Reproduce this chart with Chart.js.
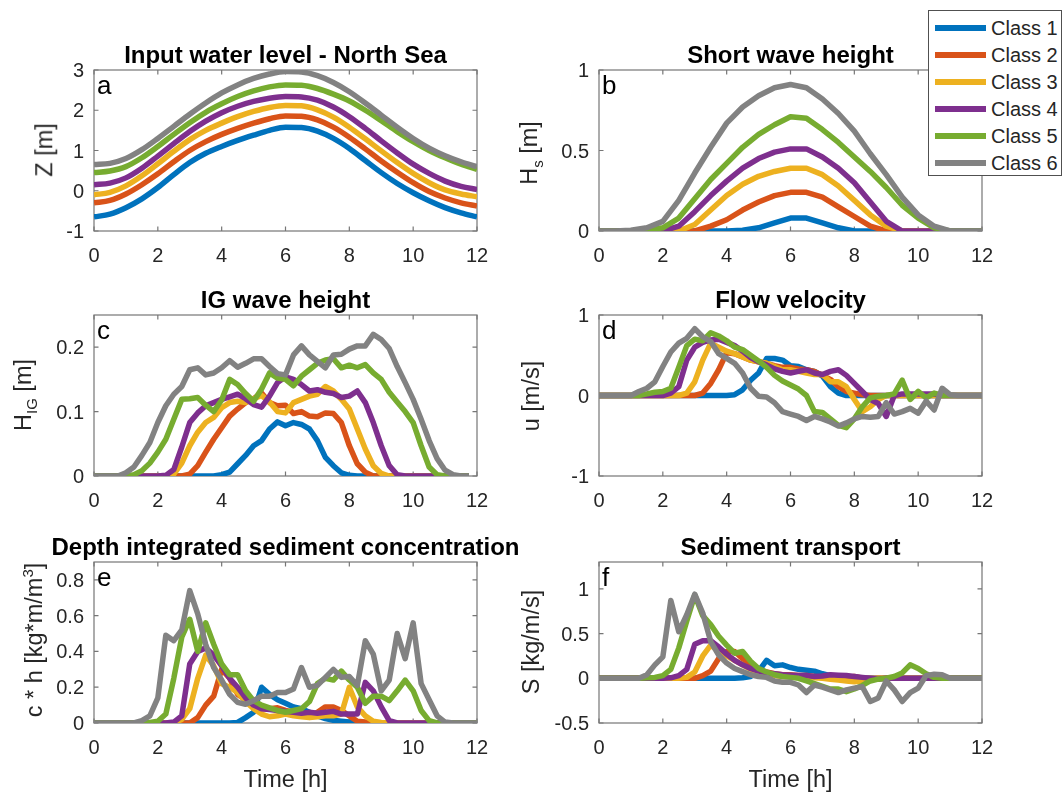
<!DOCTYPE html>
<html>
<head>
<meta charset="utf-8">
<title>Storm classes</title>
<script src="https://cdn.jsdelivr.net/npm/chart.js@4.4.0/dist/chart.umd.min.js"></script>
<style>
  body { margin: 0; background: #fff; font-family: "Liberation Sans", Arial, sans-serif; }
  #page { position: relative; width: 1064px; height: 794px; overflow: hidden; }
  #page canvas { position: absolute; left: 0; top: 0; }
  .ylab { position: absolute; transform: translate(-50%, -50%) rotate(-90deg); font-size: 23.5px; color: #262626; white-space: nowrap; line-height: 1; }
  .ylab sub, .ylab sup { font-size: 15px; line-height: 0; }
  #legend { position: absolute; left: 928px; top: 10px; width: 134px; height: 166px; box-sizing: border-box; border: 1px solid #505050; background: #fff; z-index: 5; }
  .row { position: absolute; left: 0; height: 26px; line-height: 26px; font-size: 20px; color: #262626; white-space: nowrap; }
  .swatch { position: absolute; left: 6px; top: 10px; width: 51px; height: 6px; }
  .row span.txt { position: absolute; left: 62px; }
</style>
</head>
<body>
<div id="page">
  <div class="ylab" style="left:45px; top:150px;">Z [m]</div>
  <div class="ylab" style="left:530px; top:153px;">H<sub>s</sub> [m]</div>
  <div class="ylab" style="left:24px; top:395px;">H<sub>IG</sub> [m]</div>
  <div class="ylab" style="left:532px; top:396px;">u [m/s]</div>
  <div class="ylab" style="left:35px; top:640px;">c * h [kg*m/m<sup>3</sup>]</div>
  <div class="ylab" style="left:532px; top:642px;">S [kg/m/s]</div>
  <div id="legend"></div>
</div>
<script>
const classNames = ['Class 1', 'Class 2', 'Class 3', 'Class 4', 'Class 5', 'Class 6'];
const classColors = ['#0072BD', '#D95319', '#EDB120', '#7E2F8E', '#77AC30', '#828282'];

const halfHours = [0, 0.5, 1, 1.5, 2, 2.5, 3, 3.5, 4, 4.5, 5, 5.5, 6, 6.5, 7, 7.5, 8, 8.5, 9, 9.5, 10, 10.5, 11, 11.5, 12];
const hours = [0, 0.25, 0.5, 0.75, 1, 1.25, 1.5, 1.75, 2, 2.25, 2.5, 2.75, 3, 3.25, 3.5, 3.75,
  4, 4.25, 4.5, 4.75, 5, 5.25, 5.5, 5.75, 6, 6.25, 6.5, 6.75, 7, 7.25, 7.5, 7.75,
  8, 8.25, 8.5, 8.75, 9, 9.25, 9.5, 9.75, 10, 10.25, 10.5, 10.75, 11, 11.25, 11.5, 11.75, 12];

const timeTicks = [0, 2, 4, 6, 8, 10, 12];
const zTicks = [-1, 0, 1, 2, 3];
const hsTicks = [0, 0.5, 1];
const higTicks = [0, 0.1, 0.2];
const uTicks = [-1, 0, 1];
const chTicks = [0, 0.2, 0.4, 0.6, 0.8];
const sTicks = [-0.5, 0, 0.5, 1];

// a: water level [m], every half hour
const waterLevel = [
  [-0.65, -0.58, -0.42, -0.2, 0.08, 0.4, 0.7, 0.93, 1.1, 1.25, 1.38, 1.5, 1.58, 1.57, 1.48, 1.3, 1.05, 0.75, 0.45, 0.18, -0.05, -0.25, -0.42, -0.55, -0.65],
  [-0.3, -0.24, -0.08, 0.15, 0.42, 0.72, 1.0, 1.22, 1.4, 1.55, 1.68, 1.79, 1.86, 1.85, 1.76, 1.58, 1.33, 1.04, 0.74, 0.46, 0.2, -0.02, -0.18, -0.3, -0.38],
  [-0.1, -0.04, 0.12, 0.37, 0.67, 0.98, 1.27, 1.5, 1.68, 1.84, 1.97, 2.07, 2.12, 2.11, 2.01, 1.83, 1.58, 1.29, 0.99, 0.7, 0.43, 0.2, 0.02, -0.08, -0.15],
  [0.15, 0.19, 0.32, 0.56, 0.86, 1.17, 1.47, 1.73, 1.94, 2.1, 2.22, 2.3, 2.34, 2.33, 2.25, 2.08, 1.84, 1.55, 1.24, 0.94, 0.66, 0.43, 0.24, 0.11, 0.03],
  [0.45, 0.49, 0.6, 0.82, 1.1, 1.4, 1.69, 1.95, 2.16, 2.34, 2.48, 2.58, 2.63, 2.62, 2.54, 2.4, 2.23, 2.0, 1.74, 1.47, 1.22, 1.0, 0.82, 0.66, 0.53],
  [0.65, 0.68, 0.8, 1.02, 1.3, 1.6, 1.9, 2.18, 2.43, 2.63, 2.79, 2.9, 2.96, 2.95, 2.86, 2.69, 2.46, 2.18, 1.88, 1.58, 1.3, 1.06, 0.87, 0.72, 0.6]
];

// b: short wave height [m], every half hour
const shortWave = [
  [0, 0, 0, 0, 0, 0, 0, 0, 0, 0.005, 0.02, 0.05, 0.08, 0.08, 0.05, 0.02, 0, 0, 0, 0, 0, 0, 0, 0, 0],
  [0, 0, 0, 0, 0, 0, 0, 0.03, 0.07, 0.13, 0.18, 0.22, 0.24, 0.24, 0.21, 0.15, 0.09, 0.03, 0, 0, 0, 0, 0, 0, 0],
  [0, 0, 0, 0, 0, 0, 0.04, 0.13, 0.22, 0.29, 0.34, 0.37, 0.39, 0.39, 0.35, 0.28, 0.19, 0.1, 0.03, 0, 0, 0, 0, 0, 0],
  [0, 0, 0, 0, 0, 0.03, 0.12, 0.22, 0.31, 0.39, 0.45, 0.49, 0.51, 0.51, 0.46, 0.39, 0.3, 0.18, 0.06, 0, 0, 0, 0, 0, 0],
  [0, 0, 0, 0.005, 0.02, 0.08, 0.2, 0.32, 0.42, 0.52, 0.6, 0.66, 0.71, 0.7, 0.63, 0.55, 0.46, 0.37, 0.27, 0.16, 0.08, 0.02, 0, 0, 0],
  [0, 0, 0.005, 0.02, 0.06, 0.19, 0.36, 0.52, 0.67, 0.77, 0.84, 0.89, 0.91, 0.89, 0.82, 0.73, 0.62, 0.48, 0.35, 0.21, 0.1, 0.03, 0, 0, 0]
];

// c: IG wave height [m], every quarter hour (no value at 12 h)
const igWave = [
  [0, 0, 0, 0, 0, 0, 0, 0, 0, 0, 0, 0, 0, 0, 0, 0,
   0.002, 0.006, 0.019, 0.032, 0.047, 0.055, 0.073, 0.084, 0.078, 0.083, 0.08, 0.073, 0.055, 0.029, 0.016, 0.005,
   0.001, 0, 0, 0, 0, 0, 0, 0, 0, 0, 0, 0, 0, 0, 0, 0, null],
  [0, 0, 0, 0, 0, 0, 0, 0, 0, 0, 0, 0, 0.003, 0.016, 0.037, 0.057,
   0.075, 0.093, 0.104, 0.114, 0.12, 0.129, 0.114, 0.109, 0.11, 0.097, 0.1, 0.093, 0.092, 0.098, 0.097, 0.083,
   0.047, 0.019, 0.006, 0, 0, 0, 0, 0, 0, 0, 0, 0, 0, 0, 0, 0, null],
  [0, 0, 0, 0, 0, 0, 0, 0, 0, 0, 0.003, 0.02, 0.047, 0.068, 0.083, 0.091,
   0.106, 0.114, 0.116, 0.114, 0.12, 0.125, 0.115, 0.1, 0.098, 0.114, 0.119, 0.124, 0.127, 0.139, 0.132, 0.119,
   0.104, 0.073, 0.042, 0.016, 0.004, 0, 0, 0, 0, 0, 0, 0, 0, 0, 0, 0, null],
  [0, 0, 0, 0, 0, 0, 0, 0, 0, 0.001, 0.01, 0.045, 0.083, 0.098, 0.109, 0.114,
   0.119, 0.123, 0.127, 0.12, 0.111, 0.107, 0.124, 0.145, 0.154, 0.15, 0.142, 0.132, 0.134, 0.13, 0.128, 0.122,
   0.124, 0.132, 0.114, 0.083, 0.047, 0.016, 0.002, 0, 0, 0, 0, 0, 0, 0, 0, 0, null],
  [0, 0, 0, 0, 0, 0.002, 0.008, 0.02, 0.037, 0.057, 0.088, 0.119, 0.12, 0.122, 0.11, 0.1,
   0.118, 0.15, 0.142, 0.128, 0.116, 0.135, 0.16, 0.152, 0.15, 0.14, 0.155, 0.165, 0.175, 0.18, 0.182, 0.168,
   0.172, 0.168, 0.173, 0.16, 0.15, 0.13, 0.115, 0.1, 0.083, 0.047, 0.014, 0.002, 0, 0, 0, 0, null],
  [0, 0, 0, 0, 0.005, 0.014, 0.032, 0.052, 0.083, 0.109, 0.127, 0.139, 0.165, 0.168, 0.157, 0.16,
   0.168, 0.179, 0.169, 0.175, 0.182, 0.182, 0.17, 0.159, 0.157, 0.188, 0.202, 0.188, 0.178, 0.168, 0.188, 0.189,
   0.197, 0.202, 0.202, 0.22, 0.212, 0.198, 0.17, 0.145, 0.119, 0.088, 0.055, 0.027, 0.009, 0.002, 0, 0, null]
];

// d: flow velocity [m/s], every quarter hour
const flowVelocity = [
  [0, 0, 0, 0, 0, 0, 0, 0, 0, 0, 0, 0, 0, 0, 0, 0,
   0, 0.01, 0.07, 0.19, 0.28, 0.46, 0.46, 0.44, 0.37, 0.36, 0.32, 0.3, 0.24, 0.11, 0.03, 0,
   0, 0, 0, 0, 0, 0, 0, 0, 0, 0, 0, 0, 0, 0, 0, 0, 0],
  [0, 0, 0, 0, 0, 0, 0, 0, 0, 0, 0, 0, 0, 0.03, 0.15, 0.32,
   0.53, 0.52, 0.48, 0.44, 0.42, 0.4, 0.37, 0.35, 0.35, 0.33, 0.32, 0.3, 0.25, 0.2, 0.11, 0.05,
   0.03, 0.01, 0, 0, 0, 0, 0, 0, 0, 0, 0, 0, 0, 0, 0, 0, 0],
  [0, 0, 0, 0, 0, 0, 0, 0, 0, 0, 0, 0.03, 0.17, 0.44, 0.65, 0.6,
   0.55, 0.52, 0.48, 0.44, 0.42, 0.4, 0.36, 0.32, 0.32, 0.3, 0.28, 0.26, 0.26, 0.17, 0.17, 0.11,
   -0.05, -0.2, -0.14, -0.05, 0, 0, 0, 0, 0, 0, 0, 0, 0, 0, 0, 0, 0],
  [0, 0, 0, 0, 0, 0, 0, 0, 0, 0.03, 0.11, 0.44, 0.6, 0.66, 0.69, 0.7,
   0.66, 0.62, 0.55, 0.47, 0.42, 0.38, 0.33, 0.3, 0.28, 0.3, 0.32, 0.28, 0.26, 0.3, 0.32, 0.25,
   0.15, 0.05, -0.05, -0.1, -0.26, 0, 0.02, 0.02, 0.02, 0.02, 0.02, 0, 0, 0, 0, 0, 0],
  [0, 0, 0, 0, 0, 0, 0.02, 0.04, 0.05, 0.09, 0.35, 0.62, 0.7, 0.68, 0.78, 0.74,
   0.68, 0.6, 0.57, 0.5, 0.43, 0.35, 0.25, 0.18, 0.13, 0.08, 0, -0.2, -0.21, -0.29, -0.37, -0.4,
   -0.29, -0.14, -0.03, -0.01, 0, 0.02, 0.19, -0.05, 0.05, -0.03, 0.03, 0, 0, 0, 0, 0, 0],
  [0, 0, 0, 0, 0, 0.05, 0.09, 0.17, 0.36, 0.54, 0.65, 0.71, 0.83, 0.73, 0.67, 0.52,
   0.46, 0.4, 0.28, 0.09, -0.01, -0.02, -0.09, -0.2, -0.23, -0.26, -0.31, -0.26, -0.29, -0.33, -0.38, -0.34,
   -0.29, -0.26, -0.27, -0.26, -0.09, -0.23, -0.2, -0.16, -0.22, -0.07, -0.18, 0.09, 0.01, 0, 0, 0, 0]
];

// e: depth integrated sediment concentration [kg*m/m3], every quarter hour
const sedConc = [
  [0, 0, 0, 0, 0, 0, 0, 0, 0, 0, 0, 0, 0, 0, 0, 0,
   0, 0, 0.003, 0.03, 0.06, 0.2, 0.16, 0.13, 0.11, 0.09, 0.08, 0.06, 0.04, 0.025, 0.015, 0.01,
   0.005, 0, 0, 0, 0, 0, 0, 0, 0, 0, 0, 0, 0, 0, 0, 0, 0],
  [0, 0, 0, 0, 0, 0, 0, 0, 0, 0, 0, 0, 0, 0.03, 0.1, 0.15,
   0.3, 0.25, 0.16, 0.13, 0.1, 0.08, 0.08, 0.085, 0.07, 0.06, 0.05, 0.04, 0.06, 0.09, 0.09, 0.07,
   0.04, 0.01, 0.005, 0, 0, 0, 0, 0, 0, 0, 0, 0, 0, 0, 0, 0, 0],
  [0, 0, 0, 0, 0, 0, 0, 0, 0, 0, 0, 0.02, 0.08, 0.25, 0.38, 0.32,
   0.22, 0.2, 0.17, 0.12, 0.08, 0.05, 0.035, 0.04, 0.05, 0.04, 0.035, 0.03, 0.035, 0.04, 0.04, 0.05,
   0.2, 0.09, 0.04, 0.01, 0.003, 0, 0, 0, 0, 0, 0, 0, 0, 0, 0, 0, 0],
  [0, 0, 0, 0, 0, 0, 0, 0, 0, 0, 0.005, 0.04, 0.33, 0.4, 0.42, 0.38,
   0.32, 0.25, 0.2, 0.14, 0.1, 0.08, 0.075, 0.07, 0.065, 0.06, 0.055, 0.06, 0.055, 0.06, 0.065, 0.05,
   0.05, 0.05, 0.227, 0.18, 0.09, 0.013, 0, 0, 0, 0, 0, 0, 0, 0, 0, 0, 0],
  [0, 0, 0, 0, 0, 0, 0, 0.003, 0.01, 0.05, 0.25, 0.48, 0.58, 0.4, 0.56, 0.44,
   0.33, 0.27, 0.27, 0.18, 0.125, 0.1, 0.085, 0.07, 0.06, 0.07, 0.08, 0.12, 0.22, 0.25, 0.24, 0.29,
   0.24, 0.2, 0.11, 0.15, 0.15, 0.125, 0.18, 0.24, 0.18, 0.07, 0.013, 0, 0, 0, 0, 0, 0],
  [0, 0, 0, 0, 0, 0, 0.013, 0.04, 0.14, 0.49, 0.46, 0.52, 0.74, 0.61, 0.44, 0.31,
   0.24, 0.16, 0.115, 0.105, 0.125, 0.15, 0.15, 0.17, 0.17, 0.19, 0.31, 0.2, 0.21, 0.255, 0.3, 0.255,
   0.26, 0.21, 0.46, 0.385, 0.18, 0.24, 0.5, 0.36, 0.56, 0.22, 0.13, 0.04, 0.005, 0, 0, 0, 0]
];

// f: sediment transport [kg/m/s], every quarter hour
const sedTransport = [
  [0, 0, 0, 0, 0, 0, 0, 0, 0, 0, 0, 0, 0, 0, 0, 0,
   0, 0, 0.005, 0.02, 0.08, 0.2, 0.14, 0.15, 0.12, 0.1, 0.09, 0.08, 0.05, 0.03, 0.02, 0.01,
   0.005, 0, 0, 0, 0, 0, 0, 0, 0, 0, 0, 0, 0, 0, 0, 0, 0],
  [0, 0, 0, 0, 0, 0, 0, 0, 0, 0, 0, 0, 0, 0.03, 0.08, 0.22,
   0.3, 0.3, 0.22, 0.15, 0.1, 0.07, 0.05, 0.04, 0.04, 0.03, 0.03, 0.02, 0.01, 0.02, 0.02, 0.01,
   0.02, 0, 0, 0, 0, 0, 0, 0, 0, 0, 0, 0, 0, 0, 0, 0, 0],
  [0, 0, 0, 0, 0, 0, 0, 0, 0, 0, 0, 0.01, 0.07, 0.25, 0.37, 0.3,
   0.25, 0.2, 0.15, 0.1, 0.06, 0.04, 0.03, 0.02, 0.02, 0.02, 0.01, 0.005, 0, -0.01, -0.02, -0.03,
   -0.04, -0.03, -0.01, 0, 0, 0, 0, 0, 0, 0, 0, 0, 0, 0, 0, 0, 0],
  [0, 0, 0, 0, 0, 0, 0, 0, 0, 0.005, 0.03, 0.1, 0.38, 0.42, 0.42, 0.35,
   0.27, 0.2, 0.15, 0.11, 0.08, 0.06, 0.05, 0.04, 0.035, 0.03, 0.03, 0.02, 0.025, 0.04, 0.035, 0.03,
   0.02, 0.01, 0, -0.01, 0, 0, 0, 0, 0, 0, 0, 0, 0, 0, 0, 0, 0],
  [0, 0, 0, 0, 0, 0, 0.005, 0.01, 0.03, 0.1, 0.34, 0.64, 0.93, 0.7, 0.6, 0.47,
   0.37, 0.28, 0.3, 0.19, 0.11, 0.07, 0.04, 0.02, 0.01, 0, -0.03, -0.06, -0.09, -0.12, -0.12, -0.15,
   -0.12, -0.08, -0.03, -0.01, 0, 0.02, 0.06, 0.15, 0.11, 0.05, 0.01, 0, 0, 0, 0, 0, 0],
  [0, 0, 0, 0, 0, 0, 0.04, 0.15, 0.24, 0.87, 0.52, 0.71, 0.94, 0.73, 0.41, 0.26,
   0.17, 0.11, 0.075, 0.04, 0.02, 0.01, -0.03, -0.045, -0.045, -0.075, -0.16, -0.075, -0.1, -0.13, -0.16, -0.13,
   -0.11, -0.095, -0.26, -0.22, -0.03, -0.13, -0.26, -0.16, -0.11, 0.03, 0.045, 0.04, 0, 0, 0, 0, 0]
];

const W = 1064, H = 794;
const colLeft = [94, 477], colRight = [599, 982];
const rowTop = [70, 231], rowMid = [315, 476], rowLow = [562, 723];

const panels = [
  { letter: 'a', title: 'Input water level - North Sea', xr: colLeft, yr: rowTop, min: -1, max: 3, yTicks: zTicks, time: halfHours, values: waterLevel, smooth: true },
  { letter: 'b', title: 'Short wave height', xr: colRight, yr: rowTop, min: 0, max: 1, yTicks: hsTicks, time: halfHours, values: shortWave },
  { letter: 'c', title: 'IG wave height', xr: colLeft, yr: rowMid, min: 0, max: 0.25, yTicks: higTicks, time: hours, values: igWave },
  { letter: 'd', title: 'Flow velocity', xr: colRight, yr: rowMid, min: -1, max: 1, yTicks: uTicks, time: hours, values: flowVelocity },
  { letter: 'e', title: 'Depth integrated sediment concentration', xr: colLeft, yr: rowLow, min: 0, max: 0.9, yTicks: chTicks, time: hours, values: sedConc, xLabel: 'Time [h]' },
  { letter: 'f', title: 'Sediment transport', xr: colRight, yr: rowLow, min: -0.5, max: 1.3, yTicks: sTicks, time: hours, values: sedTransport, xLabel: 'Time [h]' }
];

const fmt = v => String(Math.round(v * 100) / 100);

// draws the MATLAB style box, inward ticks and all canvas text
const matlabAxes = {
  id: 'matlabAxes',
  beforeDatasetsDraw(chart) {
    const { ctx, chartArea: a, scales: { x, y } } = chart;
    const len = 4.5;
    ctx.save();
    ctx.strokeStyle = '#767676';
    ctx.lineWidth = 1.2;
    ctx.strokeRect(a.left, a.top, a.right - a.left, a.bottom - a.top);
    ctx.beginPath();
    x.ticks.forEach(t => {
      const px = x.getPixelForValue(t.value);
      ctx.moveTo(px, a.bottom); ctx.lineTo(px, a.bottom - len);
      ctx.moveTo(px, a.top); ctx.lineTo(px, a.top + len);
    });
    y.ticks.forEach(t => {
      const py = y.getPixelForValue(t.value);
      ctx.moveTo(a.left, py); ctx.lineTo(a.left + len, py);
      ctx.moveTo(a.right, py); ctx.lineTo(a.right - len, py);
    });
    ctx.stroke();
    ctx.restore();
  },
  afterDraw(chart, args, opts) {
    const { ctx, chartArea: a, scales: { x, y } } = chart;
    const mid = (a.left + a.right) / 2;
    ctx.save();
    ctx.fillStyle = '#262626';
    ctx.font = '20px "Liberation Sans", Arial, sans-serif';
    ctx.textBaseline = 'alphabetic';
    ctx.textAlign = 'center';
    x.ticks.forEach(t => ctx.fillText(fmt(t.value), x.getPixelForValue(t.value), a.bottom + 31));
    ctx.textAlign = 'right';
    y.ticks.forEach(t => ctx.fillText(fmt(t.value), a.left - 10, y.getPixelForValue(t.value) + 7));
    if (opts.xLabel) {
      ctx.textAlign = 'center';
      ctx.font = '23.5px "Liberation Sans", Arial, sans-serif';
      ctx.fillText(opts.xLabel, mid, 787);
    }
    ctx.fillStyle = '#000';
    ctx.textAlign = 'center';
    ctx.font = 'bold 24px "Liberation Sans", Arial, sans-serif';
    ctx.fillText(opts.title, mid, a.top - 7.5);
    ctx.textAlign = 'left';
    ctx.font = '26px "Liberation Sans", Arial, sans-serif';
    ctx.fillText(opts.letter, a.left + 3, a.top + 24);
    ctx.restore();
  }
};

const page = document.getElementById('page');

panels.forEach(p => {
  const canvas = document.createElement('canvas');
  canvas.width = W;
  canvas.height = H;
  page.insertBefore(canvas, page.firstChild);

  const datasets = p.values.map((vals, i) => ({
    label: classNames[i],
    data: p.time.map((t, k) => ({ x: t, y: vals[k] })),
    borderColor: classColors[i],
    backgroundColor: classColors[i],
    borderWidth: 5.5,
    pointRadius: 0,
    fill: false,
    tension: p.smooth ? 0.4 : 0,
    cubicInterpolationMode: p.smooth ? 'monotone' : 'default',
    borderJoinStyle: 'round',
    borderCapStyle: 'butt',
    order: 6 - i
  }));

  new Chart(canvas.getContext('2d'), {
    type: 'line',
    data: { datasets: datasets },
    options: {
      responsive: false,
      animation: false,
      events: [],
      layout: {
        autoPadding: false,
        padding: { left: p.xr[0], right: W - p.xr[1], top: p.yr[0], bottom: H - p.yr[1] }
      },
      plugins: {
        legend: { display: false },
        tooltip: { enabled: false },
        matlabAxes: { title: p.title, letter: p.letter, xLabel: p.xLabel || '' }
      },
      scales: {
        x: {
          type: 'linear', display: false, min: 0, max: 12,
          afterBuildTicks: s => { s.ticks = timeTicks.map(v => ({ value: v })); }
        },
        y: {
          type: 'linear', display: false, min: p.min, max: p.max,
          afterBuildTicks: s => { s.ticks = p.yTicks.map(v => ({ value: v })); }
        }
      }
    },
    plugins: [matlabAxes]
  });
});

// legend box in the top right corner
const legend = document.getElementById('legend');
classNames.forEach((name, i) => {
  const row = document.createElement('div');
  row.className = 'row';
  row.style.top = (4 + i * 27) + 'px';
  row.innerHTML = '<span class="swatch" style="background:' + classColors[i] + '"></span><span class="txt">' + name + '</span>';
  legend.appendChild(row);
});
</script>
</body>
</html>
